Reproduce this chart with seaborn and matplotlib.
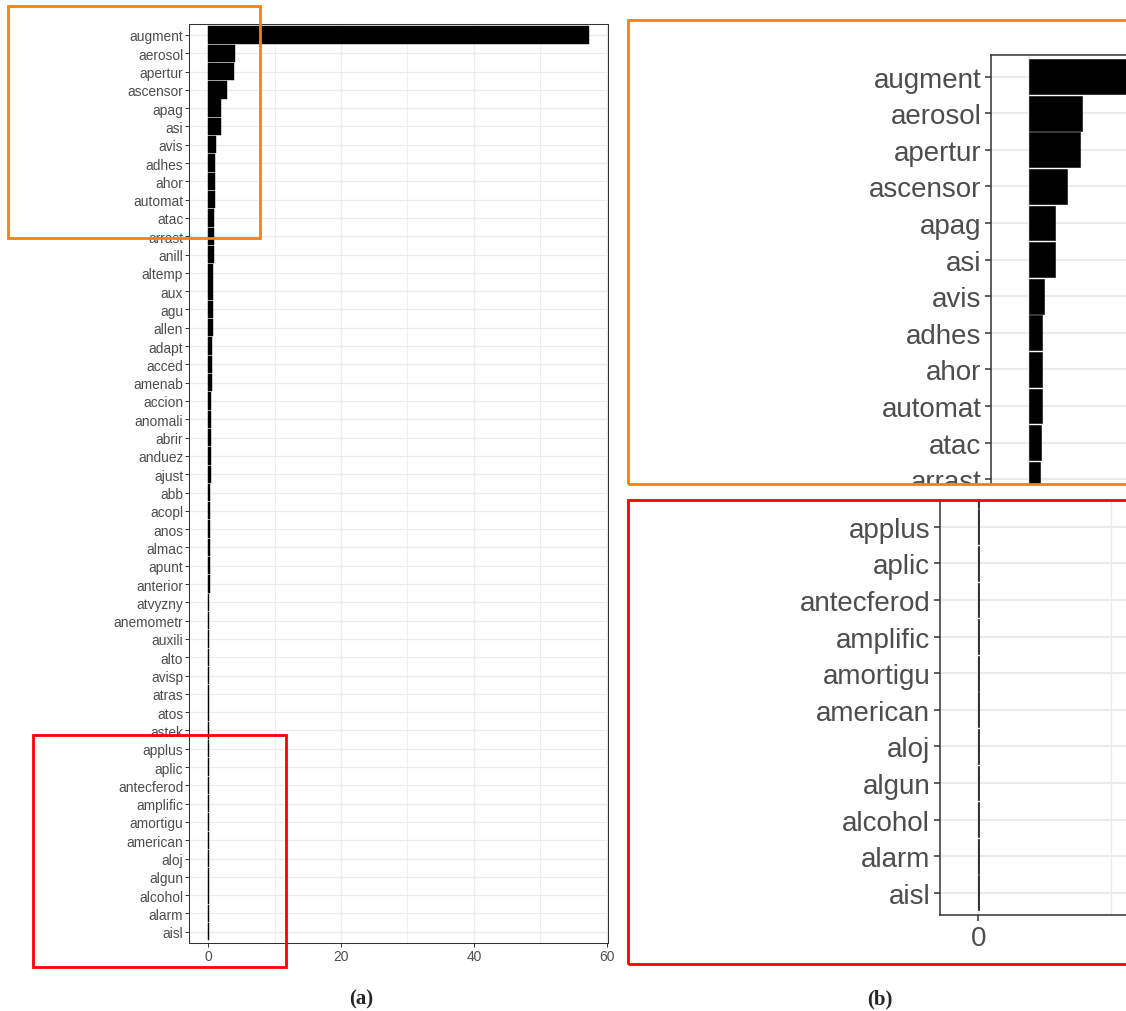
import matplotlib
matplotlib.use("Agg")
import numpy as np
import pandas as pd
import matplotlib.pyplot as plt
import seaborn as sns
from matplotlib.patches import Rectangle
from matplotlib.text import Text
from matplotlib.transforms import Bbox, TransformedBbox
from matplotlib.ticker import FixedLocator

# ---------------- data ----------------
terms = ["augment", "aerosol", "apertur", "ascensor", "apag", "asi", "avis",
         "adhes", "ahor", "automat", "atac", "arrast", "anill", "altemp", "aux",
         "agu", "allen", "adapt", "acced", "amenab", "accion", "anomali", "abrir",
         "anduez", "ajust", "abb", "acopl", "anos", "almac", "apunt", "anterior",
         "atvyzny", "anemometr", "auxili", "alto", "avisp", "atras", "atos",
         "astek", "applus", "aplic", "antecferod", "amplific", "amortigu",
         "american", "aloj", "algun", "alcohol", "alarm", "aisl"]
importance = [57.35, 4.00, 3.82, 2.87, 1.98, 1.94, 1.10, 0.97, 0.96, 0.94,
              0.90, 0.85, 0.82, 0.76, 0.74, 0.66, 0.64, 0.56, 0.55, 0.50,
              0.42, 0.41, 0.40, 0.39, 0.36, 0.31, 0.30, 0.29, 0.26, 0.22,
              0.20, 0.17, 0.15, 0.14, 0.13, 0.10, 0.09, 0.09, 0.08, 0.06,
              0.06, 0.05, 0.05, 0.05, 0.05, 0.04, 0.04, 0.04, 0.04, 0.04]
x_major_ticks = [0, 20, 40, 60]
x_minor_ticks = [10, 30, 50]
panel_labels = ["(a)", "(b)"]

# ---------------- style ----------------
W, H = 1126, 1012
sns.set_theme(style="white")
plt.rcParams["font.family"] = ["Liberation Sans", "DejaVu Sans"]

fig = plt.figure(figsize=(W / 100, H / 100), dpi=100)
fig.patch.set_facecolor("white")

df = pd.DataFrame({"term": terms, "importance": importance})
n = len(terms)
xmax = max(importance)
xlim = (-0.05 * xmax, 1.05 * xmax)


def px_axes(left, top, width, height):
    return fig.add_axes([left / W, 1 - (top + height) / H, width / W, height / H])


def draw_panel(ax, fs, ticklen, tickw, pad, spine_lw, grid_lw, edge_lw):
    sns.barplot(data=df, x="importance", y="term", orient="h", color="black",
                saturation=1, width=0.95, errorbar=None, edgecolor="black",
                linewidth=edge_lw, ax=ax)
    ax.set_xlim(*xlim)
    ax.set_ylim(n - 1 + 0.6, -0.6)
    ax.xaxis.set_major_locator(FixedLocator(x_major_ticks))
    ax.xaxis.set_minor_locator(FixedLocator(x_minor_ticks))
    ax.grid(which="major", color="#EBEBEB", linewidth=grid_lw)
    ax.grid(which="minor", axis="x", color="#EBEBEB", linewidth=grid_lw * 0.6)
    ax.set_axisbelow(True)
    ax.set_xlabel("")
    ax.set_ylabel("")
    ax.tick_params(axis="both", which="major", labelsize=fs, labelcolor="#4D4D4D",
                   color="#333333", length=ticklen, width=tickw, pad=pad,
                   left=True, bottom=True)
    ax.tick_params(which="minor", length=0, left=False, bottom=False)
    for s in ax.spines.values():
        s.set_visible(True)
        s.set_color("#333333")
        s.set_linewidth(spine_lw)
    ax.set_facecolor("white")


# ---- (a) full chart ----
ax_a = px_axes(189.3, 25.0, 418.7, 918.7)
draw_panel(ax_a, fs=9.9, ticklen=2.9, tickw=0.7, pad=1.5, spine_lw=0.75,
           grid_lw=0.9, edge_lw=0.3)

# ---- (b) zoomed views: same chart at double scale, clipped to boxes ----
ZW, ZH = 418.7 * 2, 918.7 * 2
ax_top = px_axes(991.0, 55.7, ZW, ZH)
draw_panel(ax_top, fs=20, ticklen=4.3, tickw=1.1, pad=2.5, spine_lw=1.1,
           grid_lw=1.5, edge_lw=0.4)
ax_bot = px_axes(940.3, 915.7 - ZH, ZW, ZH)
draw_panel(ax_bot, fs=20, ticklen=4.3, tickw=1.1, pad=3.0, spine_lw=1.1,
           grid_lw=1.5, edge_lw=0.4)

fig.canvas.draw()
renderer = fig.canvas.get_renderer()


def clip_axes(ax, left, top, right, bottom):
    frac = Bbox.from_extents(left / W, 1 - bottom / H, right / W, 1 - top / H)
    bb = TransformedBbox(frac, fig.transFigure)
    disp = frac.transformed(fig.transFigure)
    for art in ax.findobj():
        if art is ax:
            continue
        art.set_clip_box(bb)
        art.set_clip_on(True)
        # texts lying wholly outside the zoom window are never seen
        if isinstance(art, Text) and art.get_visible() and art.get_text():
            ext = art.get_window_extent(renderer)
            if not ext.overlaps(disp):
                art.set_visible(False)


clip_axes(ax_top, 628.3, 20.7, 1126, 485.0)
clip_axes(ax_bot, 628.3, 500.7, 1126, 965.0)

# ---- highlight boxes ----
ORANGE = "#FF7F0E"
RED = "#FF0000"


def box(l, t, r, b, color):
    fig.add_artist(Rectangle((l / W, 1 - b / H), (r - l) / W, (b - t) / H,
                             transform=fig.transFigure, fill=False,
                             edgecolor=color, linewidth=2.0, zorder=10))


box(8.3, 7.3, 260.0, 239.3, ORANGE)
box(33.3, 735.7, 285.7, 968.3, RED)
box(628.3, 20.7, 1135, 485.0, ORANGE)
box(628.3, 500.7, 1135, 965.0, RED)

# ---- panel labels ----
fig.text(361 / W, 1 - 999 / H, panel_labels[0], ha="center", va="center",
         fontsize=15, fontweight="bold", family=["Liberation Serif", "DejaVu Serif"])
fig.text(880 / W, 1 - 999 / H, panel_labels[1], ha="center", va="center",
         fontsize=15, fontweight="bold", family=["Liberation Serif", "DejaVu Serif"])

fig.savefig("out.png", dpi=100)
